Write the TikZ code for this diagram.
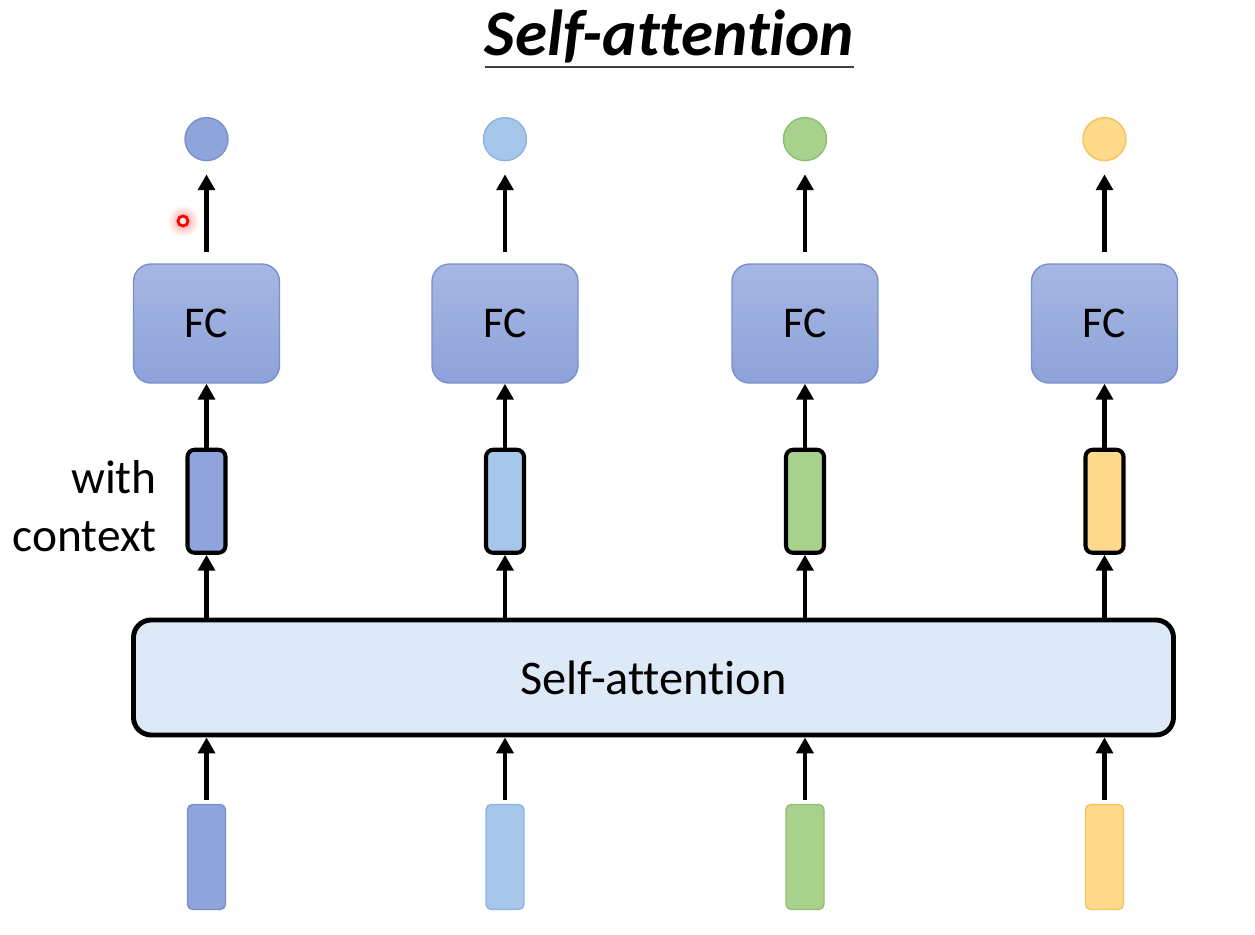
\documentclass[tikz,border=0pt]{standalone}
\usepackage{fontspec}
\setmainfont[Ligatures=NoCommon]{Carlito}
\usetikzlibrary{positioning,arrows.meta}

\definecolor{azul}{HTML}{8FA4DA}
\definecolor{azulborde}{HTML}{7890CC}
\definecolor{celeste}{HTML}{A6C6EA}
\definecolor{celesteborde}{HTML}{8DB3E0}
\definecolor{verde}{HTML}{A9D18E}
\definecolor{verdeborde}{HTML}{8CC06E}
\definecolor{amarillo}{HTML}{FFD98C}
\definecolor{amarilloborde}{HTML}{F4C458}
\definecolor{fcarriba}{HTML}{A7B7E3}
\definecolor{fcabajo}{HTML}{8DA2D9}
\definecolor{fondo}{HTML}{DDE9F6}

\begin{document}
\begin{tikzpicture}[
font=\fontsize{25}{32}\selectfont,
entrada/.style={
    rounded corners=3pt,
    minimum width=0.76cm,
    minimum height=2.1cm,
    inner sep=0pt,
    line width=0.8pt
},
contexto/.style={
    draw=black,
    rounded corners=4pt,
    minimum width=0.76cm,
    minimum height=2.06cm,
    inner sep=0pt,
    line width=2.3pt
},
capa/.style={
    draw=azulborde,
    rounded corners=10pt,
    top color=fcarriba,
    bottom color=fcabajo,
    minimum width=2.92cm,
    minimum height=2.38cm,
    line width=0.8pt
},
salida/.style={
    circle,
    minimum size=0.86cm,
    inner sep=0pt,
    line width=0.8pt
},
bloque/.style={
    draw=black,
    rounded corners=10pt,
    fill=fondo,
    minimum width=20.8cm,
    minimum height=2.3cm,
    line width=2.8pt,
    font=\fontsize{27.5}{33}\selectfont
},
flecha/.style={
    -{Triangle[length=9pt,width=9.5pt]},
    line width=2.3pt
}
]
\useasboundingbox (0,0) rectangle (25.1,18.7);

% Titulo
\node[
    font=\fontsize{37}{44}\selectfont\bfseries\itshape,
    inner sep=0pt,
    anchor=base
] (titulo) at (13.39,17.58) {Self-attention};

\draw[line width=1.2pt, black!75]
([yshift=-0.22cm]titulo.base west) -- ([yshift=-0.22cm]titulo.base east);

% Entradas
\node[entrada, draw=azulborde, fill=azul] (entrada1) at (4.13,1.56) {};
\node[entrada, draw=celesteborde, fill=celeste] (entrada2) at (10.1,1.56) {};
\node[entrada, draw=verdeborde, fill=verde] (entrada3) at (16.1,1.56) {};
\node[entrada, draw=amarilloborde, fill=amarillo] (entrada4) at (22.09,1.56) {};

% Bloque de atencion
\node[bloque] (atencion) at (13.07,5.15) {Self-attention};

% Vectores con contexto
\node[contexto, fill=azul, above=4.98cm of entrada1] (contexto1) {};
\node[contexto, fill=celeste, above=4.98cm of entrada2] (contexto2) {};
\node[contexto, fill=verde, above=4.98cm of entrada3] (contexto3) {};
\node[contexto, fill=amarillo, above=4.98cm of entrada4] (contexto4) {};

\node[
    font=\fontsize{27}{33}\selectfont,
    align=right,
    left=0.45cm of contexto1,
    yshift=-0.1cm
] (etiqueta) {with\\context};

% Capas FC
\node[capa, above=1.28cm of contexto1] (fc1) {FC};
\node[capa, above=1.28cm of contexto2] (fc2) {FC};
\node[capa, above=1.28cm of contexto3] (fc3) {FC};
\node[capa, above=1.28cm of contexto4] (fc4) {FC};

% Salidas
\node[salida, draw=azulborde, fill=azul, above=2.04cm of fc1] (salida1) {};
\node[salida, draw=celesteborde, fill=celeste, above=2.04cm of fc2] (salida2) {};
\node[salida, draw=verdeborde, fill=verde, above=2.04cm of fc3] (salida3) {};
\node[salida, draw=amarilloborde, fill=amarillo, above=2.04cm of fc4] (salida4) {};

% Flechas de entrada
\draw[flecha, shorten <=0.08cm]
(entrada1.north) -- (entrada1.north |- atencion.south);
\draw[flecha, shorten <=0.08cm]
(entrada2.north) -- (entrada2.north |- atencion.south);
\draw[flecha, shorten <=0.08cm]
(entrada3.north) -- (entrada3.north |- atencion.south);
\draw[flecha, shorten <=0.08cm]
(entrada4.north) -- (entrada4.north |- atencion.south);

% Flechas hacia el contexto
\draw[flecha] (contexto1.south |- atencion.north) -- (contexto1.south);
\draw[flecha] (contexto2.south |- atencion.north) -- (contexto2.south);
\draw[flecha] (contexto3.south |- atencion.north) -- (contexto3.south);
\draw[flecha] (contexto4.south |- atencion.north) -- (contexto4.south);

% Flechas hacia FC
\draw[flecha] (contexto1.north) -- (fc1.south);
\draw[flecha] (contexto2.north) -- (fc2.south);
\draw[flecha] (contexto3.north) -- (fc3.south);
\draw[flecha] (contexto4.north) -- (fc4.south);

% Flechas de salida
\draw[flecha, shorten <=0.22cm, shorten >=0.26cm] (fc1.north) -- (salida1.south);
\draw[flecha, shorten <=0.22cm, shorten >=0.26cm] (fc2.north) -- (salida2.south);
\draw[flecha, shorten <=0.22cm, shorten >=0.26cm] (fc3.north) -- (salida3.south);
\draw[flecha, shorten <=0.22cm, shorten >=0.26cm] (fc4.north) -- (salida4.south);

% Puntero
\shade[inner color=red!40, outer color=white] (3.66,14.28) circle (0.32);
\node[
    circle,
    draw=red,
    fill=red!8,
    line width=1.6pt,
    minimum size=0.2cm,
    inner sep=0pt
] (puntero) at (3.66,14.28) {};

\end{tikzpicture}
\end{document}
